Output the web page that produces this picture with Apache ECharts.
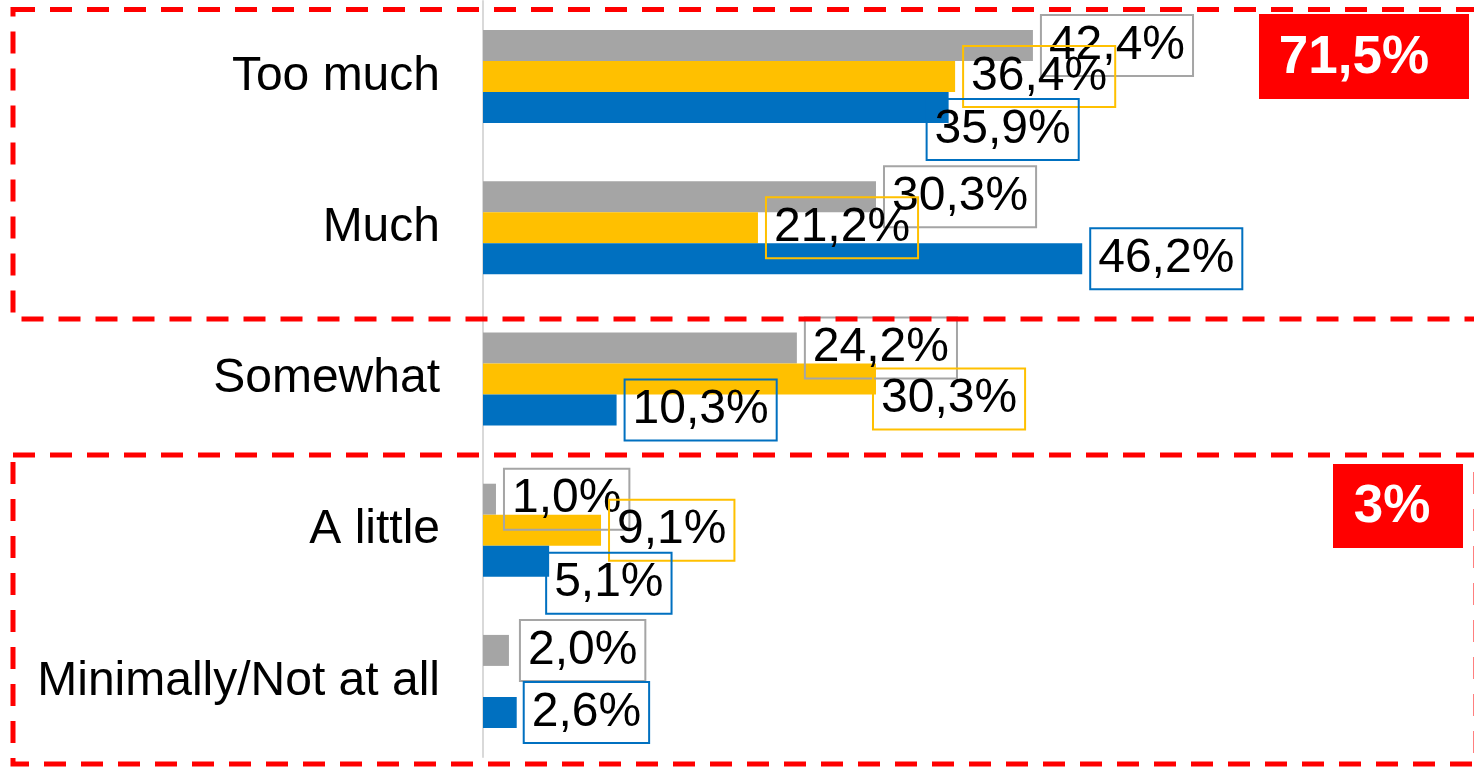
<!DOCTYPE html>
<html>
<head>
<meta charset="utf-8">
<script src="https://cdn.jsdelivr.net/npm/echarts@6/dist/echarts.min.js"></script>
<style>
  html, body { margin: 0; padding: 0; background: #ffffff; }
  #chart { width: 1474px; height: 767px; }
</style>
</head>
<body>
<div id="chart"></div>
<script>
// Answer categories, top to bottom
const categories = ['Too much', 'Much', 'Somewhat', 'A little', 'Minimally/Not at all'];

// Share of respondents (%) per group
const seriesGray = [42.4, 30.3, 24.2, 1.0, 2.0];
const seriesYellow = [36.4, 21.2, 30.3, 9.1, null];
const seriesBlue = [35.9, 46.2, 10.3, 5.1, 2.6];

// Totals shown in the red call-outs
const topTotal = '71,5%';
const bottomTotal = '3%';

const FONT = "'Liberation Sans', Arial, sans-serif";
const GRAY = '#a5a5a5';
const YELLOW = '#ffc000';
const BLUE = '#0070c0';

// Manual nudges for value labels that would otherwise collide
const labelNudge = {
  blue: { 0: [-30, 22], 3: [-11, 22], 4: [-1, 0] },
  yellow: { 2: [-11, 20] },
  gray: { 4: [3, 0] }
};

const fmt = v => v.toFixed(1).replace('.', ',') + '%';

function makeSeries(name, values, color, key) {
  return {
    name: name,
    type: 'bar',
    barGap: '0%',
    barCategoryGap: '38.5%',
    itemStyle: { color: color },
    label: {
      show: true,
      position: 'right',
      distance: 8,
      formatter: p => fmt(p.value),
      fontFamily: FONT,
      fontSize: 48,
      lineHeight: 48,
      color: '#000000',
      borderColor: color,
      borderWidth: 2,
      padding: [8, 8, 5, 8]
    },
    data: values.map((v, i) => {
      const n = labelNudge[key][i];
      if (v == null) return null;
      return n ? { value: v, label: { offset: n } } : v;
    })
  };
}

const chart = echarts.init(document.getElementById('chart'), null, { renderer: 'canvas' });

chart.setOption({
  animation: false,
  grid: { left: 483, top: 1, width: 648.5, height: 756, containLabel: false },
  xAxis: {
    type: 'value',
    min: 0,
    max: 50,
    show: false
  },
  yAxis: {
    type: 'category',
    data: categories,
    inverse: true,
    axisLine: { show: true, lineStyle: { color: '#d9d9d9', width: 2 } },
    axisTick: { show: false },
    axisLabel: {
      fontFamily: FONT, fontSize: 48, lineHeight: 48, color: '#000000',
      margin: 43, padding: [6, 0, 0, 0]
    }
  },
  series: [
    makeSeries('Gray', seriesGray, GRAY, 'gray'),
    makeSeries('Yellow', seriesYellow, YELLOW, 'yellow'),
    makeSeries('Blue', seriesBlue, BLUE, 'blue')
  ],
  graphic: [
    {
      type: 'rect', z: 100, silent: true,
      shape: { x: 13, y: 9.5, width: 1470, height: 309.5 },
      style: { fill: 'none', stroke: '#ff0000', lineWidth: 5, lineDash: [22, 15] }
    },
    {
      type: 'rect', z: 100, silent: true,
      shape: { x: 13, y: 455, width: 1463, height: 309 },
      style: { fill: 'none', stroke: '#ff0000', lineWidth: 5, lineDash: [22, 15] }
    },
    {
      type: 'rect', z: 101, silent: true,
      shape: { x: 1259, y: 14, width: 210, height: 85 },
      style: { fill: '#ff0000' }
    },
    {
      type: 'text', z: 102, silent: true,
      x: 1354, y: 58,
      style: {
        text: topTotal, fill: '#ffffff', font: 'bold 53px ' + FONT,
        align: 'center', verticalAlign: 'middle'
      }
    },
    {
      type: 'rect', z: 101, silent: true,
      shape: { x: 1333, y: 464, width: 130, height: 84 },
      style: { fill: '#ff0000' }
    },
    {
      type: 'text', z: 102, silent: true,
      x: 1392, y: 507,
      style: {
        text: bottomTotal, fill: '#ffffff', font: 'bold 53px ' + FONT,
        align: 'center', verticalAlign: 'middle'
      }
    }
  ]
});
</script>
</body>
</html>
